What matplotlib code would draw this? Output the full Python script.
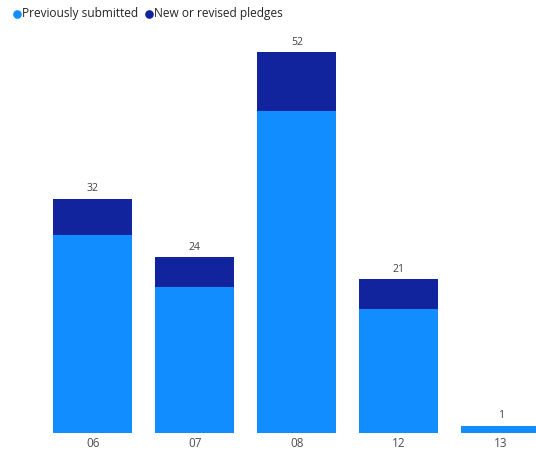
import matplotlib
matplotlib.use('Agg')
import matplotlib.pyplot as plt
from matplotlib.lines import Line2D
import numpy as np

plt.rcParams['font.family'] = ['Open Sans', 'DejaVu Sans']

categories = ['06', '07', '08', '12', '13']
previously_submitted = [27, 20, 44, 17, 1]
new_or_revised = [5, 4, 8, 4, 0]

light_blue = '#118DFF'
dark_blue = '#12239E'

fig = plt.figure(figsize=(5.36, 4.51), dpi=100)
# axes runs edge to edge, last bar gets clipped on the right
ax = fig.add_axes([0, 18 / 451, 1, 403 / 451])

x = np.arange(len(categories))
totals = [p + n for p, n in zip(previously_submitted, new_or_revised)]

ax.bar(x, previously_submitted, width=0.775, color=light_blue)
ax.bar(x, new_or_revised, width=0.775, bottom=previously_submitted, color=dark_blue)

for xi, t in zip(x, totals):
    ax.annotate(str(t), (xi, t), xytext=(0, 7.2), textcoords='offset points',
                ha='center', va='center', fontsize=7.5, color='#404040')

ax.set_xlim(-92.8 / 102, (536 - 92.8) / 102)
ax.set_ylim(0, 403 / 7.321)
ax.set_xticks(x)
ax.set_xticklabels(categories)
ax.tick_params(axis='x', length=0, pad=3, labelsize=8.5, labelcolor='#504E4C')
ax.set_yticks([])
for s in ax.spines.values():
    s.set_visible(False)

# legend across the top
legend_items = [('Previously submitted', light_blue, 16.7), ('New or revised pledges', dark_blue, 149.3)]
for label, color, px in legend_items:
    fig.add_artist(Line2D([px / 536], [1 - 14 / 451], marker='o', markersize=5.2,
                          color=color, transform=fig.transFigure))
    fig.text((px + 4.8) / 536, 1 - 14 / 451, label, fontsize=8.6, color='#252423',
             ha='left', va='center')

fig.savefig('out.png', dpi=100)
